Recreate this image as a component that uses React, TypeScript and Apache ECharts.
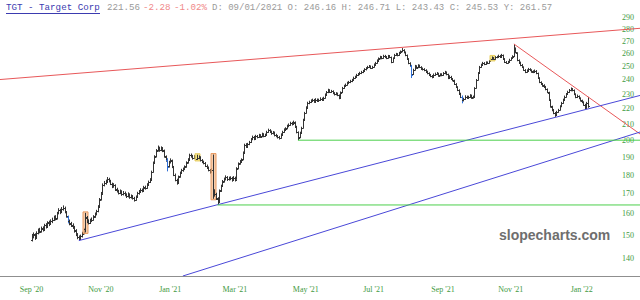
import React, { useEffect, useRef } from "react";
import * as echarts from "echarts";

// ---- categories: weekdays from Aug 4 2020, 407 of them ----
const START_DATE = "2020-08-04";
const CATEGORY_COUNT = 407;
const FIRST_BAR = 20; // Sep 1 2020

// [open, high, low, close]
const ohlc: number[][] = [
  [148.0,150.6,147.2,149.2],[149.4,151.3,148.6,150.5],[150.3,150.9,147.9,148.8],[149.0,151.8,148.5,151.0],[151.2,153.1,150.4,152.4],
  [152.6,153.4,150.9,151.6],[151.8,154.0,151.2,153.2],[153.0,154.1,151.7,152.5],[152.8,155.3,152.2,154.6],[154.8,155.6,153.1,153.9],
  [154.1,156.5,153.5,155.8],[156.0,156.8,154.2,155.0],[155.3,157.4,154.8,156.7],[156.5,158.2,155.6,157.1],[157.3,159.2,156.6,158.4],
  [158.6,159.4,156.9,157.6],[157.9,161.0,157.3,160.3],[160.5,162.8,159.8,161.9],[161.7,162.5,159.9,160.8],[161.0,163.4,160.4,162.5],
  [162.3,164.2,161.6,163.1],[163.0,163.6,160.3,161.0],[160.8,161.4,158.2,158.9],[158.6,159.2,155.5,156.2],[156.4,157.3,154.6,155.4],
  [155.6,156.2,153.8,154.6],[154.4,155.5,152.9,153.8],[153.6,154.3,151.2,152.0],[152.2,152.8,149.6,150.2],[150.4,151.0,148.2,149.0],
  [149.2,149.9,147.6,148.3],[148.5,150.3,147.9,149.5],[149.7,151.6,149.0,150.8],[151.0,153.4,150.4,152.6],[152.8,160.5,151.3,158.0],
  [158.3,159.0,155.6,156.4],[156.2,157.4,155.0,155.8],[155.9,157.7,155.2,156.9],[157.0,158.3,156.1,157.1],[157.3,159.4,156.8,158.6],
  [158.8,160.7,158.1,159.9],[160.0,162.0,159.3,161.2],[161.4,164.3,160.8,163.5],[163.8,167.9,163.2,167.0],[167.3,171.0,166.6,170.2],
  [170.6,175.5,170.0,174.7],[174.9,176.8,173.9,175.8],[175.6,177.5,174.8,176.4],[176.6,178.9,175.9,177.8],[177.6,178.5,176.0,176.9],
  [176.7,177.4,174.6,175.4],[175.2,175.9,173.0,173.9],[174.0,175.6,173.2,174.6],[174.4,175.0,171.5,172.2],[172.4,173.2,170.7,171.5],
  [171.3,172.1,169.7,170.5],[170.6,172.3,169.9,171.4],[171.2,171.9,169.0,169.8],[170.0,171.5,169.2,170.6],[170.4,171.2,168.8,169.5],
  [169.6,170.3,167.9,168.7],[168.9,170.8,168.2,169.9],[169.7,170.3,167.5,168.2],[168.4,169.7,167.6,168.8],[168.6,169.4,167.1,167.9],
  [167.8,168.5,166.1,166.9],[167.1,169.2,166.5,168.4],[168.6,171.1,168.0,170.3],[170.4,172.0,169.6,171.2],[171.4,172.9,170.6,172.1],
  [172.0,172.8,170.8,171.5],[171.7,174.2,171.1,173.4],[173.3,174.3,172.2,173.0],[173.2,175.6,172.6,174.8],[175.0,177.0,174.3,176.2],
  [176.4,178.3,175.7,177.4],[177.8,182.4,177.2,181.5],[181.9,187.5,181.3,186.7],[187.0,191.1,186.3,190.2],[190.5,194.7,189.8,193.8],
  [194.0,196.8,193.2,195.3],[195.2,196.1,193.1,194.0],[194.2,196.3,193.5,195.0],[195.1,195.9,192.9,194.2],[193.8,194.4,189.7,190.5],
  [190.3,191.0,187.4,188.2],[188.6,189.4,182.0,184.4],[184.8,187.9,184.1,187.0],[187.2,189.3,186.4,188.4],[188.0,188.6,183.8,184.6],
  [184.3,185.0,179.4,180.2],[180.0,180.8,176.6,177.5],[177.3,178.0,174.8,175.7],[176.0,179.7,175.4,178.9],[179.2,181.9,178.5,181.1],
  [181.3,183.4,180.6,182.5],[182.6,184.1,181.8,183.2],[183.4,185.3,182.7,184.4],[184.7,187.6,184.0,186.8],[187.0,189.4,186.3,188.5],
  [188.8,192.0,188.1,191.2],[191.0,192.1,189.7,190.6],[190.4,191.3,188.6,189.5],[189.7,191.2,188.9,190.4],[190.2,190.9,188.2,189.0],
  [189.2,191.4,188.4,189.5],[189.6,191.0,188.8,190.1],[189.9,190.5,187.5,188.3],[188.1,188.9,186.6,187.4],[187.3,188.0,185.9,186.7],
  [186.5,187.2,184.4,185.2],[185.0,185.8,183.3,184.1],[184.0,184.7,182.0,182.8],[182.6,183.3,180.8,181.6],[181.8,183.8,181.1,183.0],
  [182.5,191.5,167.5,170.0],[169.8,172.4,168.6,170.2],[170.0,170.6,166.9,167.8],[167.5,168.3,164.4,165.8],[166.4,172.3,165.9,171.5],
  [171.8,174.8,171.0,174.0],[174.3,177.3,173.6,176.5],[176.7,178.6,175.9,177.8],[177.9,179.8,177.1,178.9],[178.7,179.4,176.8,177.6],
  [177.8,179.1,177.0,178.2],[178.0,179.3,177.2,178.4],[178.3,179.0,176.4,177.2],[177.4,179.4,176.8,178.6],[178.4,179.1,176.5,177.4],
  [178.0,184.3,177.5,183.5],[183.8,187.0,183.1,186.2],[186.4,188.4,185.7,187.5],[187.6,189.3,186.9,188.4],[188.8,193.3,188.2,192.5],
  [193.0,197.9,192.4,197.1],[197.0,198.2,195.4,196.2],[196.4,198.4,195.7,197.5],[197.7,199.6,197.0,198.8],[199.0,201.3,198.3,200.5],
  [200.7,202.8,200.0,201.9],[201.8,202.6,200.0,200.8],[201.0,203.3,200.4,202.5],[202.4,203.2,201.1,201.9],[202.1,203.9,201.4,203.0],
  [203.0,203.7,201.4,202.2],[202.4,204.6,201.8,203.8],[203.6,204.3,201.8,202.6],[202.8,204.0,202.0,203.1],[203.3,205.8,202.7,205.0],
  [205.2,207.1,204.5,206.2],[206.0,206.8,204.6,205.4],[205.2,205.9,203.3,204.1],[204.3,205.6,203.5,204.8],[204.6,205.3,202.3,203.1],
  [203.2,203.9,201.8,202.6],[202.5,203.2,201.0,201.8],[201.9,202.6,200.4,201.2],[201.5,204.2,200.9,203.4],[203.6,205.8,202.9,205.0],
  [205.2,207.3,204.5,206.5],[206.6,208.0,205.8,207.2],[207.4,209.6,206.7,208.8],[208.9,210.4,208.0,209.5],[209.7,211.5,208.9,210.6],
  [210.5,211.4,209.1,210.0],[210.2,212.2,209.5,211.3],[211.0,211.7,207.7,208.5],[208.3,208.9,204.2,205.0],[204.8,205.4,200.0,201.5],
  [201.8,205.2,201.2,204.4],[204.6,208.3,203.9,207.5],[207.8,213.4,207.2,212.6],[212.9,217.9,212.3,217.1],[217.4,221.6,216.8,220.8],
  [221.0,224.7,220.3,223.8],[223.9,225.4,223.0,224.5],[224.6,226.3,223.8,225.4],[225.3,226.8,224.5,225.9],[225.8,226.6,224.0,224.8],
  [225.0,227.1,224.4,226.2],[226.0,226.9,224.5,225.3],[225.5,226.8,224.7,225.9],[226.0,227.7,225.2,226.8],[226.7,227.5,225.2,226.0],
  [226.2,228.1,225.5,227.2],[227.4,230.4,226.8,229.6],[229.8,232.1,229.0,231.2],[231.4,233.7,230.6,232.8],[232.6,233.4,230.7,231.5],
  [231.6,232.9,230.8,232.0],[231.8,232.6,229.9,230.7],[230.5,231.3,229.0,229.8],[230.0,231.3,229.1,230.4],[230.2,231.0,228.5,229.3],
  [229.0,229.7,226.4,227.2],[227.5,231.8,226.9,231.0],[231.3,235.0,230.6,234.2],[234.4,236.5,233.6,235.6],[235.8,237.4,235.0,236.5],
  [236.7,238.7,235.9,237.8],[237.9,239.3,237.0,238.4],[238.5,240.1,237.7,239.2],[239.3,240.8,238.4,239.9],[240.1,242.4,239.4,241.5],
  [241.6,243.1,240.8,242.2],[242.4,244.5,241.7,243.6],[243.7,245.1,242.9,244.2],[244.4,246.0,243.5,245.1],[245.2,246.7,244.3,245.8],
  [245.9,247.4,245.0,246.5],[246.7,248.7,246.0,247.8],[247.9,249.5,247.0,248.6],[248.8,250.5,248.0,249.6],[249.7,251.1,248.9,250.2],
  [250.0,250.8,248.1,248.9],[249.1,250.5,248.2,249.6],[249.8,252.3,249.1,251.4],[251.6,253.5,250.8,252.6],[252.8,255.4,252.1,254.5],
  [254.7,256.9,253.9,256.0],[256.2,258.2,255.4,257.3],[257.2,258.0,255.5,256.4],[256.6,259.0,255.9,258.1],[258.0,258.9,256.4,257.3],
  [257.2,258.0,255.6,256.5],[256.7,258.9,256.0,258.0],[258.0,258.8,256.4,257.3],[257.0,257.6,252.5,253.4],[253.6,257.0,253.0,256.2],
  [256.4,259.7,255.8,258.8],[259.0,260.5,258.1,259.6],[259.5,260.3,257.8,258.7],[258.9,261.3,258.2,260.4],[260.6,262.4,259.8,261.5],
  [261.7,264.3,261.0,262.8],[262.6,263.4,260.1,261.0],[261.0,261.6,257.9,258.8],[258.6,259.2,255.1,256.0],[255.8,256.4,251.7,252.6],
  [252.4,253.2,249.8,250.8],[250.5,251.2,241.4,243.8],[244.2,248.3,243.6,247.5],[247.7,251.2,247.0,250.3],[250.1,250.9,248.3,249.2],
  [249.4,251.7,248.7,250.8],[250.6,251.4,248.8,249.6],[249.4,250.2,247.6,248.5],[248.4,249.2,247.0,247.8],[247.9,248.7,246.4,247.3],
  [247.1,247.9,245.2,246.1],[246.0,246.8,244.1,245.0],[244.9,245.6,242.9,243.8],[243.6,244.4,242.0,242.9],[242.8,243.6,241.2,242.1],
  [242.3,244.7,241.6,243.8],[243.9,245.4,243.0,244.5],[244.4,245.8,243.6,244.8],[244.6,245.3,242.4,243.2],[243.4,244.9,242.6,244.0],
  [244.1,244.9,242.7,243.6],[243.7,245.8,243.0,244.9],[245.0,246.7,244.2,245.8],[245.6,246.3,243.4,244.2],[244.0,244.6,240.6,241.4],
  [241.6,243.4,240.9,242.5],[242.3,243.0,240.0,240.8],[240.6,241.4,239.0,239.9],[239.6,240.2,236.4,237.2],[237.0,237.7,234.2,235.0],
  [234.8,235.5,232.0,232.8],[232.6,233.3,229.7,230.5],[230.2,230.9,227.2,228.0],[228.2,229.0,223.6,225.9],[226.0,227.4,224.9,226.5],
  [226.7,229.1,226.0,228.2],[228.0,228.9,226.6,227.4],[227.5,228.8,226.7,227.9],[228.0,229.9,227.3,229.0],[228.8,229.6,226.7,227.5],
  [227.6,228.9,226.8,227.9],[228.4,234.8,227.9,234.0],[234.4,240.7,233.8,239.9],[240.2,245.8,239.6,245.0],[245.3,250.4,244.6,249.6],
  [249.8,252.1,249.0,251.2],[251.4,253.5,250.6,252.6],[252.5,253.3,251.0,251.8],[251.9,253.9,251.2,253.0],[253.0,253.8,251.8,252.6],
  [252.8,254.9,252.1,254.0],[254.2,256.5,253.5,255.6],[255.8,257.7,255.0,256.5],[256.4,257.2,255.0,255.8],[255.9,257.9,255.2,257.0],
  [257.0,258.2,256.3,257.3],[257.4,259.1,256.6,258.2],[258.1,258.9,256.7,257.5],[257.6,259.7,256.9,258.8],[258.6,259.2,255.2,256.0],
  [255.8,256.4,252.6,253.4],[253.3,254.1,252.0,252.8],[252.9,254.3,252.1,253.4],[253.6,255.9,252.9,255.0],[255.2,257.1,254.5,256.2],
  [256.4,258.6,255.7,257.3],[257.8,267.6,257.2,264.0],[263.6,264.8,260.2,261.0],[260.4,261.0,254.0,254.9],[254.7,255.4,252.2,253.0],
  [253.0,253.7,250.2,251.0],[251.2,251.9,248.8,249.6],[249.4,250.1,246.7,247.5],[247.3,248.0,245.0,245.8],[246.0,247.8,245.3,246.9],
  [247.1,248.9,246.4,248.0],[247.9,248.7,246.5,247.3],[247.2,247.9,245.4,246.2],[246.3,247.1,245.0,245.8],[246.0,247.7,245.2,246.8],
  [246.6,247.3,244.2,245.0],[244.8,245.4,240.8,241.6],[241.4,242.0,237.7,238.5],[238.3,239.0,236.4,237.2],[237.0,237.8,235.2,236.0],
  [236.2,236.9,234.2,235.0],[235.0,235.7,232.6,233.4],[233.2,233.9,230.6,231.4],[231.0,231.6,225.2,226.0],[225.8,226.4,220.7,221.5],
  [221.3,222.0,218.3,219.1],[219.0,219.8,216.4,217.2],[217.0,217.8,214.6,215.8],[216.1,218.6,215.5,217.8],[218.0,219.9,217.3,219.1],
  [219.4,222.3,218.8,221.5],[221.7,224.6,221.0,223.8],[224.0,226.8,223.3,225.9],[226.1,228.9,225.4,228.0],[228.2,230.7,227.5,229.8],
  [230.0,232.3,229.3,231.4],[231.6,233.5,230.8,232.6],[232.7,234.6,231.9,233.5],[233.4,234.2,231.9,232.8],[232.6,233.2,229.2,230.0],
  [229.8,230.5,227.1,227.9],[228.0,229.6,227.2,228.5],[228.3,229.0,226.4,227.2],[227.0,227.7,224.8,225.6],[225.4,226.1,223.7,224.5],
  [224.3,225.0,222.0,222.8],[222.6,223.3,219.7,220.5],[220.7,224.6,220.1,223.8],[223.6,228.0,220.6,221.6]
];

// category indices of highlighted bars
const orangeBars = [54, 135];
const yellowBars = [125, 312];
const blueBars = [43, 106, 261, 293];

const priceTicks = [140, 150, 160, 170, 180, 190, 200, 210, 220, 230, 240, 250, 260, 270, 280, 290];
const priceMin = 132.6;
const priceMax = 305.7;

// trendlines: [categoryIndex, price]
const redUpper = [[0, 240.3], [406, 280.6]];
const redDown = [[326, 267.6], [406, 203.8]];
const blueUpper = [[50, 147.6], [406, 229.0]];
const blueLower = [[116, 132.6], [406, 205.0]];
const greenUpper = [[189, 200.0], [406, 200.0]];
const greenLower = [[138, 164.4], [406, 164.4]];

const headerTitle = "TGT - Target Corp";
const headerLast = "221.56";
const headerChange = "-2.28";
const headerPct = "-1.02%";
const headerDetail = "D: 09/01/2021 O: 246.16 H: 246.71 L: 243.43 C: 245.53 Y: 261.57";

const MONTHS = ["Jan", "Feb", "Mar", "Apr", "May", "Jun", "Jul", "Aug", "Sep", "Oct", "Nov", "Dec"];

function makeWeekdays(start: string, n: number): string[] {
  const out: string[] = [];
  const d = new Date(start + "T00:00:00Z");
  while (out.length < n) {
    const wd = d.getUTCDay();
    if (wd !== 0 && wd !== 6) out.push(d.toISOString().slice(0, 10));
    d.setUTCDate(d.getUTCDate() + 1);
  }
  return out;
}

export default function App() {
  const ref = useRef<HTMLDivElement>(null);
  useEffect(() => {
    if (!ref.current) return;
    const chart = echarts.init(ref.current, undefined, { renderer: "svg" });
    const cats = makeWeekdays(START_DATE, CATEGORY_COUNT);
    const showLabel = (i: number) => {
      if (i === 0) return false;
      const m = +cats[i].slice(5, 7);
      const pm = +cats[i - 1].slice(5, 7);
      return m !== pm && m % 2 === 1;
    };
    const barData = ohlc.map((b, k) => [FIRST_BAR + k, b[0], b[1], b[2], b[3]]);
    const axisFont = { fontFamily: "Liberation Serif", fontSize: 8, color: "#3f9a3f" };
    const mono = "'Liberation Mono', monospace";
    const mkLine = (data: number[][], color: string) => ({
      type: "line",
      data,
      symbol: "none",
      silent: true,
      z: 5,
      lineStyle: { color, width: 1 },
      clip: true,
    });
    chart.setOption({
      animation: false,
      grid: { left: 0, right: 0, top: 0, bottom: 24 },
      xAxis: {
        type: "category",
        data: cats,
        boundaryGap: false,
        axisLine: { show: true, lineStyle: { color: "#8f8f8f", width: 1 } },
        axisTick: { show: false },
        splitLine: { show: false },
        axisLabel: {
          ...axisFont,
          margin: 9,
          interval: (i: number) => showLabel(i),
          formatter: (v: string) => MONTHS[+v.slice(5, 7) - 1] + " '" + v.slice(2, 4),
        },
      },
      yAxis: {
        type: "log",
        logBase: 10,
        min: priceMin,
        max: priceMax,
        position: "right",
        axisLine: { show: false },
        axisTick: { show: false, customValues: priceTicks },
        splitLine: { show: false },
        axisLabel: { ...axisFont, inside: true, margin: 6, customValues: priceTicks },
      },
      series: [
        {
          type: "custom",
          z: 2,
          data: barData,
          encode: { x: 0, y: [1, 2, 3, 4] },
          renderItem: (params: any, api: any) => {
            const idx = api.value(0);
            const o = api.value(1), h = api.value(2), l = api.value(3), c = api.value(4);
            const pH = api.coord([idx, h]);
            const pL = api.coord([idx, l]);
            const pO = api.coord([idx, o]);
            const pC = api.coord([idx, c]);
            const x = Math.round(pH[0]) + 0.5;
            const isBlue = blueBars.includes(idx);
            const color = isBlue ? "#2f6fd6" : "#333333";
            const children: any[] = [];
            if (orangeBars.includes(idx) || yellowBars.includes(idx)) {
              const orange = orangeBars.includes(idx);
              children.push({
                type: "rect",
                shape: { x: x - 2.5, y: pH[1] - 1, width: 5, height: pL[1] - pH[1] + 2 },
                style: orange
                  ? { fill: "rgba(244,185,140,0.7)", stroke: "#e89a60", lineWidth: 1 }
                  : { fill: "rgba(240,220,110,0.8)", stroke: "#e6cc60", lineWidth: 1 },
              });
            }
            children.push({
              type: "line",
              shape: { x1: x, y1: pH[1], x2: x, y2: pL[1] },
              style: { stroke: color, lineWidth: 1 },
            });
            children.push({
              type: "line",
              shape: { x1: x - 1.5, y1: Math.round(pO[1]) + 0.5, x2: x, y2: Math.round(pO[1]) + 0.5 },
              style: { stroke: color, lineWidth: 1 },
            });
            children.push({
              type: "line",
              shape: { x1: x, y1: Math.round(pC[1]) + 0.5, x2: x + 1.5, y2: Math.round(pC[1]) + 0.5 },
              style: { stroke: color, lineWidth: 1 },
            });
            return { type: "group", children };
          },
        },
        mkLine(redUpper, "#e8585a"),
        mkLine(redDown, "#e8585a"),
        mkLine(blueUpper, "#4a48d8"),
        mkLine(blueLower, "#4a48d8"),
        mkLine(greenUpper, "#4ccf4c"),
        mkLine(greenLower, "#4ccf4c"),
      ],
      graphic: [
        {
          type: "text",
          left: 499,
          top: 228,
          style: {
            text: "slopecharts.com",
            font: "bold 14px 'Liberation Sans', Arial, sans-serif",
            fill: "#6e6e6e",
          },
          z: 10,
        },
        {
          type: "text",
          x: 6,
          y: 3,
          style: { text: headerTitle, font: "9.2px " + mono, fill: "#3b3bb0" },
          z: 10,
        },
        {
          type: "line",
          shape: { x1: 6, y1: 13.5, x2: 100, y2: 13.5 },
          style: { stroke: "#3b3bb0", lineWidth: 1 },
          z: 10,
        },
        {
          type: "text",
          x: 107,
          y: 3,
          style: { text: headerLast, font: "9.2px " + mono, fill: "#9a9a9a" },
          z: 10,
        },
        {
          type: "text",
          x: 143,
          y: 3,
          style: { text: headerChange, font: "9.2px " + mono, fill: "#f08a8a" },
          z: 10,
        },
        {
          type: "text",
          x: 174,
          y: 3,
          style: { text: headerPct, font: "9.2px " + mono, fill: "#f08a8a" },
          z: 10,
        },
        {
          type: "text",
          x: 212,
          y: 3,
          style: { text: headerDetail, font: "9px " + mono, fill: "#9a9a9a" },
          z: 10,
        },
      ],
    });
    return () => chart.dispose();
  }, []);
  return (
    <div
      ref={ref}
      style={{ position: "fixed", left: 0, top: 0, width: 640, height: 300, background: "#fff" }}
    />
  );
}
